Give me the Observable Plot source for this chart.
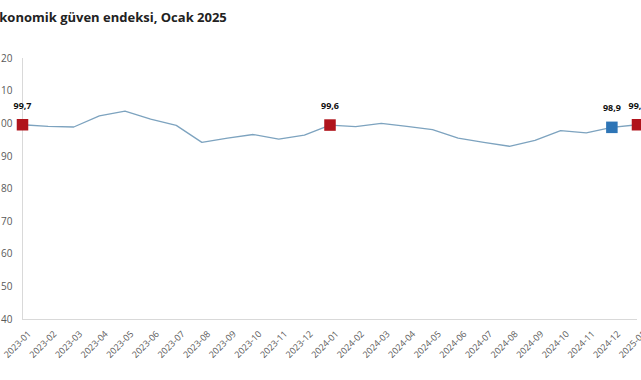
<!DOCTYPE html>
<html>
<head>
<meta charset="utf-8">
<script src="https://cdn.jsdelivr.net/npm/d3@7"></script>
<script src="https://cdn.jsdelivr.net/npm/@observablehq/plot@0.6"></script>
<style>
  html, body { margin: 0; padding: 0; background: #fff; }
  #wrap { position: relative; width: 641px; height: 380px; overflow: hidden; }
  #title { position: absolute; left: -8px; top: 8px; font-family: "Open Sans", sans-serif; font-weight: bold; font-size: 13px; color: #222; white-space: nowrap; z-index: 2; }
  #chart { position: absolute; left: 0; top: 0; }
  #chart svg { overflow: visible; }
</style>
</head>
<body>
<div id="wrap">
  <div id="title">Ekonomik güven endeksi, Ocak 2025</div>
  <div id="chart"></div>
</div>
<script>
const months = ["2023-01","2023-02","2023-03","2023-04","2023-05","2023-06","2023-07","2023-08","2023-09","2023-10","2023-11","2023-12",
  "2024-01","2024-02","2024-03","2024-04","2024-05","2024-06","2024-07","2024-08","2024-09","2024-10","2024-11","2024-12","2025-01"];
const values = [99.7, 99.2, 99.0, 102.4, 103.9, 101.4, 99.5, 94.3, 95.6, 96.7, 95.3, 96.5,
  99.6, 99.1, 100.1, 99.2, 98.2, 95.6, 94.3, 93.1, 94.9, 97.9, 97.2, 98.9, 99.7];
const highlightMonths = ["2023-01","2024-01","2024-12","2025-01"];
const highlightColors = ["#b0141c","#b0141c","#2e75b6","#b0141c"];
const yTicks = [40, 50, 60, 70, 80, 90, 100, 110, 120];

const data = months.map((m, i) => ({idx: i, month: m, value: values[i]}));
const hi = highlightMonths.map((m, i) => {
  const k = months.indexOf(m);
  return {idx: k, month: m, value: values[k], color: highlightColors[i], label: values[k].toFixed(1).replace(".", ",")};
});

const chart = Plot.plot({
  width: 641,
  height: 380,
  marginLeft: 22,
  marginRight: 4,
  marginTop: 58,
  marginBottom: 61,
  style: {fontFamily: "'Open Sans', sans-serif", fontSize: "10px", color: "#595959", overflow: "visible"},
  x: {type: "linear", domain: [0, months.length - 1], label: null},
  y: {domain: [40, 120], label: null},
  marks: [
    Plot.axisX(d3.range(months.length), {tickSize: 0, tickPadding: 13, dx: 7, fontSize: 9, tickRotate: -45, tickFormat: i => months[i], label: null}),
    Plot.axisY(yTicks, {tickSize: 0, tickPadding: 10, label: null}),
    Plot.ruleX([0], {y1: 40, y2: 120, stroke: "#d9d9d9", strokeWidth: 1}),
    Plot.ruleY([40], {stroke: "#d9d9d9", strokeWidth: 1}),
    Plot.line(data, {x: "idx", y: "value", stroke: "#7da3bf", strokeWidth: 1.3}),
    Plot.dot(hi, {x: "idx", y: "value", symbol: "square", r: 6.5, fill: "color", stroke: "none"}),
    Plot.text(hi, {x: "idx", y: "value", text: "label", dy: -19, fontWeight: "bold", fontSize: 9, fill: "#111"})
  ]
});
document.getElementById("chart").appendChild(chart);
</script>
</body>
</html>
